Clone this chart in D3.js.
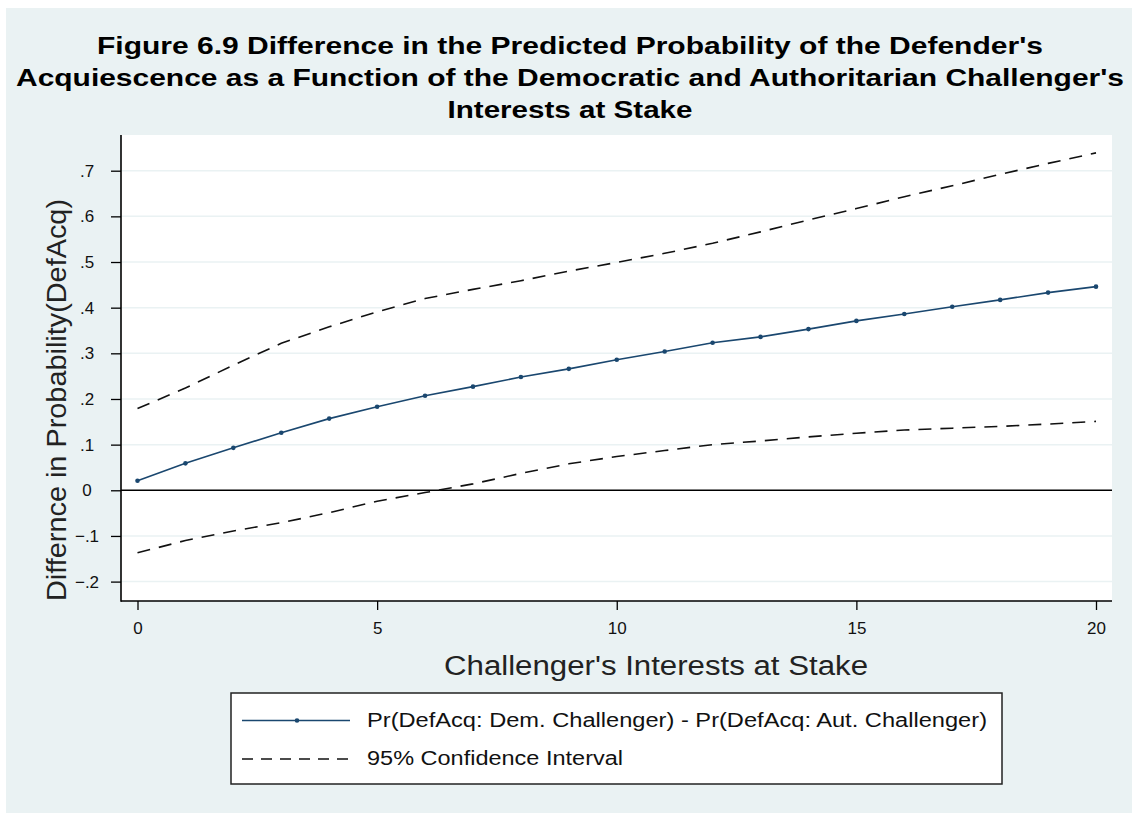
<!DOCTYPE html>
<html><head><meta charset="utf-8">
<script src="https://cdn.jsdelivr.net/npm/d3@7"></script>
<style>body{margin:0;background:#fff}svg{display:block}text{font-family:"Liberation Sans",Arial,sans-serif}</style>
</head><body><svg id="c" width="1138" height="819"></svg>
<script>
const titleLines = ["Figure 6.9 Difference in the Predicted Probability of the Defender's",
  "Acquiescence as a Function of the Democratic and Authoritarian Challenger's",
  "Interests at Stake"];
const xLabel = "Challenger's Interests at Stake";
const yLabel = "Differnce in Probability(DefAcq)";
const legendLabels = ["Pr(DefAcq: Dem. Challenger) - Pr(DefAcq: Aut. Challenger)", "95% Confidence Interval"];
const xTicks = [0, 5, 10, 15, 20];
const yTicks = [-0.2, -0.1, 0, 0.1, 0.2, 0.3, 0.4, 0.5, 0.6, 0.7];
const stake = [0,1,2,3,4,5,6,7,8,9,10,11,12,13,14,15,16,17,18,19,20];
const diff  = [0.021,0.059,0.093,0.126,0.157,0.183,0.207,0.227,0.248,0.266,0.286,0.304,0.323,0.336,0.353,0.371,0.386,0.402,0.417,0.433,0.446];
const upper = [0.179,0.224,0.274,0.322,0.358,0.391,0.420,0.440,0.459,0.480,0.499,0.519,0.541,0.566,0.592,0.617,0.643,0.667,0.692,0.716,0.739];
const lower = [-0.137,-0.110,-0.089,-0.071,-0.049,-0.024,-0.005,0.014,0.037,0.058,0.074,0.087,0.100,0.108,0.117,0.125,0.132,0.136,0.140,0.145,0.151];

const svg = d3.select("#c");
const bg = "#eaf2f3", navy = "#1a476f";
svg.append("rect").attr("x",6).attr("y",8).attr("width",1126).attr("height",805).attr("fill",bg);

const P = {l:121, r:1112, t:135, b:601};
svg.append("rect").attr("x",P.l).attr("y",P.t).attr("width",P.r-P.l).attr("height",P.b-P.t).attr("fill","#fff");

const x = d3.scaleLinear().domain([0,20]).range([137.5,1096]);
const y = d3.scaleLinear().domain([-0.2,0.7]).range([581.6,170.7]);

// gridlines
svg.append("g").selectAll("line").data(yTicks.filter(d=>d!==0)).join("line")
  .attr("x1",P.l).attr("x2",P.r).attr("y1",d=>y(d)).attr("y2",d=>y(d))
  .attr("stroke",bg).attr("stroke-width",1.5);
// zero line
svg.append("line").attr("x1",P.l).attr("x2",P.r).attr("y1",y(0)).attr("y2",y(0)).attr("stroke","#000").attr("stroke-width",1.6);

const fmt = d => d===0 ? "0" : d3.format(".1f")(d).replace("0.",".");
const ya = svg.append("g").attr("transform",`translate(${P.l},0)`)
  .call(d3.axisLeft(y).tickValues(yTicks).tickFormat(fmt).tickSize(10).tickPadding(0));
ya.select(".domain").remove();
ya.selectAll(".tick line").attr("stroke","#000").attr("stroke-width",1.3);
ya.selectAll(".tick text").attr("x",-34).attr("text-anchor","middle").attr("font-size",17).attr("fill","#111");
svg.append("line").attr("x1",P.l).attr("x2",P.l).attr("y1",P.t).attr("y2",P.b+0.8).attr("stroke","#000").attr("stroke-width",1.6);

const xa = svg.append("g").attr("transform",`translate(0,${P.b})`)
  .call(d3.axisBottom(x).tickValues(xTicks).tickFormat(d3.format("d")).tickSize(9).tickPadding(12));
xa.select(".domain").remove();
xa.selectAll(".tick line").attr("stroke","#000").attr("stroke-width",1.3);
xa.selectAll(".tick text").attr("font-size",17).attr("fill","#111");
svg.append("line").attr("x1",P.l).attr("x2",P.r).attr("y1",P.b).attr("y2",P.b).attr("stroke","#000").attr("stroke-width",1.6);

// series
const line = d3.line().x((d,i)=>x(stake[i])).y(d=>y(d));
svg.append("path").datum(upper).attr("d",line).attr("fill","none").attr("stroke","#111").attr("stroke-width",1.6).attr("stroke-dasharray","13,9");
svg.append("path").datum(lower).attr("d",line).attr("fill","none").attr("stroke","#111").attr("stroke-width",1.6).attr("stroke-dasharray","13,9");
svg.append("path").datum(diff).attr("d",line).attr("fill","none").attr("stroke",navy).attr("stroke-width",1.6);
svg.append("g").selectAll("circle").data(diff).join("circle")
  .attr("cx",(d,i)=>x(stake[i])).attr("cy",d=>y(d)).attr("r",2.3).attr("fill",navy);

// titles
const tW = [946, 1108, 245], tY = [54, 86, 118];
svg.append("g").selectAll("text").data(titleLines).join("text")
  .attr("x",570).attr("y",(d,i)=>tY[i]).attr("text-anchor","middle")
  .attr("font-size",23).attr("font-weight","bold").attr("fill","#000")
  .attr("textLength",(d,i)=>tW[i]).attr("lengthAdjust","spacingAndGlyphs").text(d=>d);

svg.append("text").attr("x",656).attr("y",675).attr("text-anchor","middle").attr("font-size",27).attr("fill","#222")
  .attr("textLength",424).attr("lengthAdjust","spacingAndGlyphs").text(xLabel);
svg.append("text").attr("transform","translate(66,400) rotate(-90)").attr("text-anchor","middle").attr("font-size",27).attr("fill","#222")
  .attr("textLength",402).attr("lengthAdjust","spacingAndGlyphs").text(yLabel);

// legend
const lg = svg.append("g");
lg.append("rect").attr("x",231).attr("y",693).attr("width",771).attr("height",91).attr("fill","#fff").attr("stroke","#222").attr("stroke-width",1.5);
lg.append("line").attr("x1",242).attr("x2",350).attr("y1",720.5).attr("y2",720.5).attr("stroke",navy).attr("stroke-width",1.6);
lg.append("circle").attr("cx",297).attr("cy",720.5).attr("r",2.3).attr("fill",navy);
lg.append("line").attr("x1",242).attr("x2",350).attr("y1",759).attr("y2",759).attr("stroke","#111").attr("stroke-width",1.6).attr("stroke-dasharray","11,8");
const lW = [620, 256], lY = [727, 765];
lg.selectAll("text").data(legendLabels).join("text")
  .attr("x",367).attr("y",(d,i)=>lY[i]).attr("font-size",20).attr("fill","#111")
  .attr("textLength",(d,i)=>lW[i]).attr("lengthAdjust","spacingAndGlyphs").text(d=>d);
</script></body></html>
